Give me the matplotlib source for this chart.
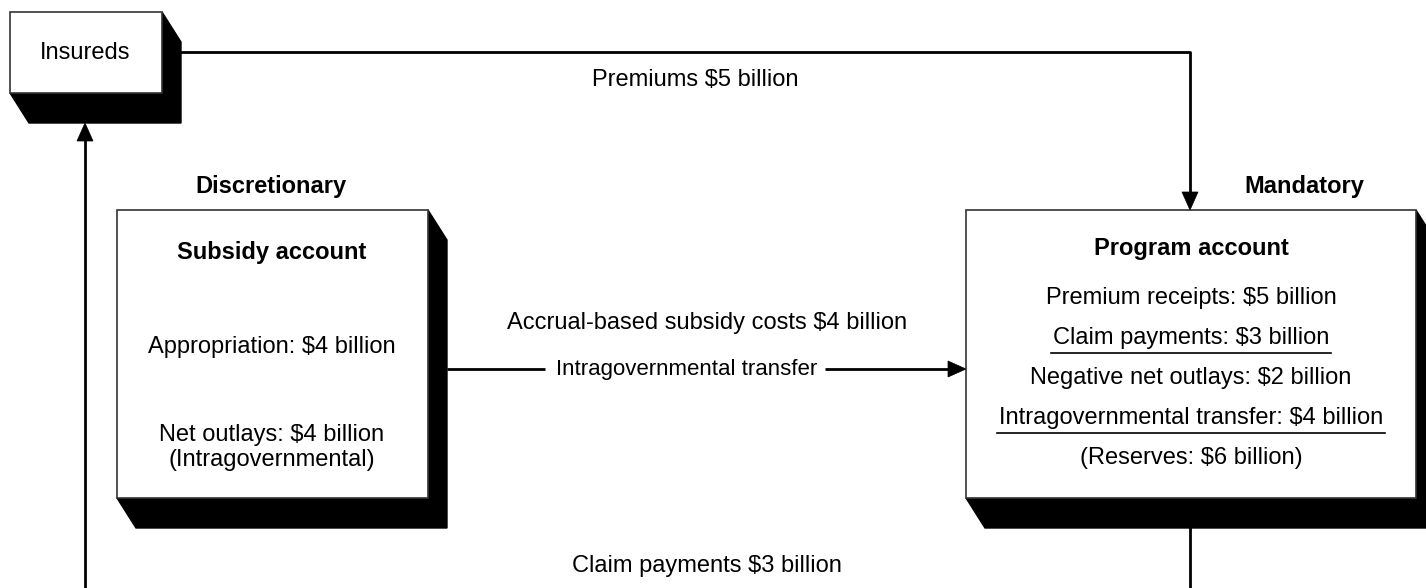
import matplotlib
matplotlib.use("Agg")
import matplotlib.pyplot as plt
from matplotlib.patches import Polygon, Rectangle

plt.rcParams["font.family"] = ["Liberation Sans", "DejaVu Sans"]

# flows, $ billions
premiums = 5
claims = 3
appropriation = 4
net_outlays = 4
subsidy_costs = 4
transfer = 4
negative_net_outlays = premiums - claims
reserves = negative_net_outlays + transfer

program_lines = [
    f"Premium receipts: ${premiums} billion",
    f"Claim payments: ${claims} billion",
    f"Negative net outlays: ${negative_net_outlays} billion",
    f"Intragovernmental transfer: ${transfer} billion",
    f"(Reserves: ${reserves} billion)",
]
program_underlined = [False, True, False, True, False]

W, H = 1426, 588
FS = 17
SH_DX, SH_DY = 19, 30

fig = plt.figure(figsize=(W / 100, H / 100), dpi=100)
ax = fig.add_axes([0, 0, 1, 1])
ax.set_xlim(0, W)
ax.set_ylim(H, 0)
ax.axis("off")


def shadow_box(x0, y0, x1, y1):
    shadow = [(x1, y0), (x1 + SH_DX, y0 + SH_DY), (x1 + SH_DX, y1 + SH_DY),
              (x0 + SH_DX, y1 + SH_DY), (x0, y1), (x1, y1)]
    ax.add_patch(Polygon(shadow, closed=True, facecolor="black", edgecolor="black", lw=1))
    ax.add_patch(Rectangle((x0, y0), x1 - x0, y1 - y0, facecolor="white",
                           edgecolor="#333333", lw=1.2, zorder=2))


def arrow_head(x, y, direction, length=18, half=8):
    # direction: 'down', 'up', 'right'
    if direction == "down":
        pts = [(x, y), (x - half, y - length), (x + half, y - length)]
    elif direction == "up":
        pts = [(x, y), (x - half, y + length), (x + half, y + length)]
    else:
        pts = [(x, y), (x - length, y - half), (x - length, y + half)]
    ax.add_patch(Polygon(pts, closed=True, facecolor="black", edgecolor="black", lw=0.5, zorder=3))


def line(xs, ys):
    ax.plot(xs, ys, color="black", lw=2, solid_capstyle="butt", zorder=1)


# boxes
shadow_box(10, 12, 162, 93)
shadow_box(117, 210, 428, 498)
shadow_box(966, 210, 1416, 498)

# insureds -> program account (premiums)
line([180, 1190, 1190], [52, 52, 195])
arrow_head(1190, 210, "down")
ax.text(695, 80, f"Premiums ${premiums} billion", fontsize=FS, ha="center", va="center")

# program account -> insureds (claims)
line([1190, 1190], [527, H])
line([85, 85], [H, 138])
arrow_head(85, 123, "up")
ax.text(707, 566, f"Claim payments ${claims} billion", fontsize=FS, ha="center", va="center")

# subsidy -> program (intragovernmental transfer)
line([447, 545], [369, 369])
line([825, 950], [369, 369])
arrow_head(966, 369, "right")
ax.text(687, 369, "Intragovernmental transfer", fontsize=16, ha="center", va="center")
ax.text(707, 323, f"Accrual-based subsidy costs ${subsidy_costs} billion", fontsize=FS,
        ha="center", va="center")

# labels
ax.text(85, 53, "Insureds", fontsize=FS, ha="center", va="center", zorder=4)
ax.text(271, 187, "Discretionary", fontsize=FS, fontweight="bold", ha="center", va="center")
ax.text(1304, 187, "Mandatory", fontsize=FS, fontweight="bold", ha="center", va="center")

# subsidy account text
ax.text(272, 252, "Subsidy account", fontsize=FS, fontweight="bold", ha="center", va="center", zorder=4)
ax.text(272, 347, f"Appropriation: ${appropriation} billion", fontsize=FS, ha="center", va="center", zorder=4)
ax.text(272, 435, f"Net outlays: ${net_outlays} billion", fontsize=FS, ha="center", va="center", zorder=4)
ax.text(272, 460, "(Intragovernmental)", fontsize=FS, ha="center", va="center", zorder=4)

# program account text
cx = 1191
ax.text(cx, 248, "Program account", fontsize=FS, fontweight="bold", ha="center", va="center", zorder=4)
fig.canvas.draw()
renderer = fig.canvas.get_renderer()
for i, (txt, ul) in enumerate(zip(program_lines, program_underlined)):
    y = 298 + 40 * i
    t = ax.text(cx, y, txt, fontsize=FS, ha="center", va="center", zorder=4)
    if ul:
        bb = t.get_window_extent(renderer=renderer)
        half = bb.width / 2 + 2
        ax.plot([cx - half, cx + half], [y + 15, y + 15], color="black", lw=1.2, zorder=4)

fig.savefig("out.png", dpi=100, facecolor="white")
